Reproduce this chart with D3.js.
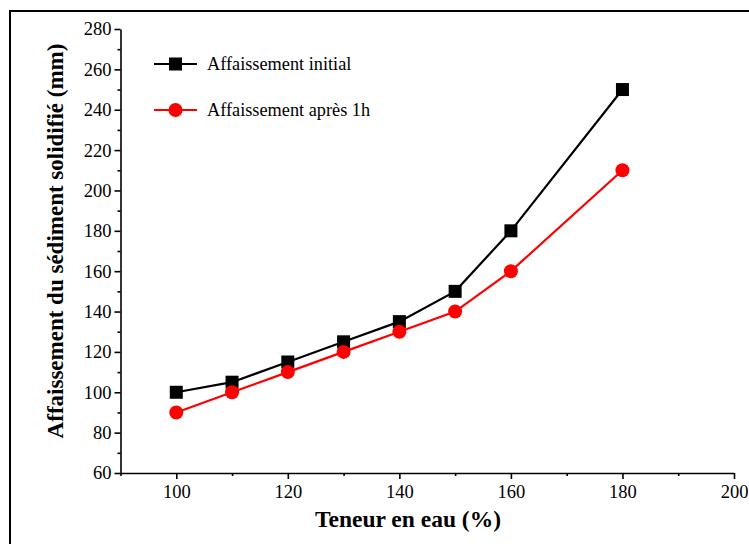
<!DOCTYPE html>
<html><head><meta charset="utf-8">
<script src="https://cdn.jsdelivr.net/npm/d3@7/dist/d3.min.js"></script>
<style>body{margin:0;background:#fff}svg{display:block}</style>
</head><body><svg id="c" width="749" height="544"></svg>
<script>
const waterContent = [100, 110, 120, 130, 140, 150, 160, 180];
const initialSlump = [100, 105, 115, 125, 135, 150, 180, 250];
const slumpAfter1h = [90, 100, 110, 120, 130, 140, 160, 210];
const seriesNames = ["Affaissement initial", "Affaissement après 1h"];
const xTicks = [100, 120, 140, 160, 180, 200];
const yTicks = [60, 80, 100, 120, 140, 160, 180, 200, 220, 240, 260, 280];

const svg = d3.select("#c");
const font = "'Liberation Serif','Times New Roman',serif";
svg.append("rect").attr("x", 10).attr("y", 11).attr("width", 800).attr("height", 600)
  .attr("fill", "none").attr("stroke", "#000").attr("stroke-width", 2);

const x = d3.scaleLinear().domain([90, 200]).range([120.5, 734]);
const y = d3.scaleLinear().domain([60, 280]).range([473, 29]);

const gx = svg.append("g").attr("transform", "translate(0,473)");
gx.append("g").call(d3.axisBottom(x).tickValues(d3.range(90, 201, 10).filter(v => v % 20 !== 0)).tickSize(3).tickFormat(""))
  .call(g => g.select(".domain").remove());
gx.append("g").call(d3.axisBottom(x).tickValues(xTicks).tickSize(6).tickSizeOuter(0).tickPadding(6).tickFormat(d3.format("d")));
const gy = svg.append("g").attr("transform", "translate(120.5,0)");
gy.append("g").call(d3.axisLeft(y).tickValues(d3.range(70, 281, 20)).tickSize(3).tickFormat(""))
  .call(g => g.select(".domain").remove());
gy.append("g").call(d3.axisLeft(y).tickValues(yTicks).tickSize(6).tickSizeOuter(0).tickPadding(3).tickFormat(d3.format("d")));
svg.selectAll(".tick text").attr("font-family", font).attr("font-size", 18.5).attr("fill", "#000");
svg.selectAll(".domain, .tick line").attr("stroke", "#000").attr("stroke-width", 1.6);

const line = d3.line().x((d, i) => x(waterContent[i])).y(d => y(d));
const colors = ["#000000", "#ff0000"];
[initialSlump, slumpAfter1h].forEach((s, k) => {
  svg.append("path").datum(s).attr("d", line).attr("fill", "none").attr("stroke", colors[k]).attr("stroke-width", 2.2);
  s.forEach((v, i) => {
    if (k === 0) svg.append("rect").attr("x", x(waterContent[i]) - 6.5).attr("y", y(v) - 6.5).attr("width", 13).attr("height", 13).attr("fill", colors[k]);
    else svg.append("circle").attr("cx", x(waterContent[i])).attr("cy", y(v)).attr("r", 7).attr("fill", colors[k]);
  });
});

seriesNames.forEach((n, k) => {
  const ly = 64 + k * 46;
  svg.append("line").attr("x1", 154).attr("x2", 197).attr("y1", ly).attr("y2", ly).attr("stroke", colors[k]).attr("stroke-width", 2.2);
  if (k === 0) svg.append("rect").attr("x", 175.5 - 6.5).attr("y", ly - 6.5).attr("width", 13).attr("height", 13).attr("fill", colors[k]);
  else svg.append("circle").attr("cx", 175.5).attr("cy", ly).attr("r", 7).attr("fill", colors[k]);
  svg.append("text").attr("x", 207).attr("y", ly + 6).attr("font-family", font).attr("font-size", 18.3).text(n);
});

svg.append("text").attr("x", 408).attr("y", 527).attr("text-anchor", "middle")
  .attr("font-family", font).attr("font-size", 23.5).attr("font-weight", "bold").text("Teneur en eau (%)");
svg.append("text").attr("transform", "translate(63,241) rotate(-90)").attr("text-anchor", "middle")
  .attr("font-family", font).attr("font-size", 23).attr("font-weight", "bold").text("Affaissement du sédiment solidifié (mm)");
</script></body></html>
